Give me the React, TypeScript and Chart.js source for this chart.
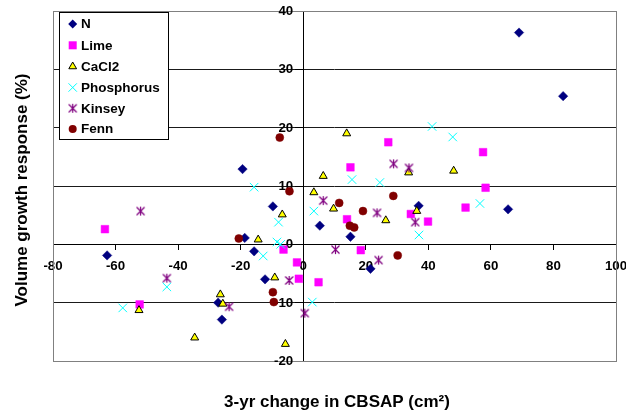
import React, { useEffect, useRef } from 'react';
import { Chart, registerables } from 'chart.js';

Chart.register(...registerables);

const FONT = '"Liberation Sans", Arial, Helvetica, sans-serif';

// ---- data ----
const seriesNames = ['N', 'Lime', 'CaCl2', 'Phosphorus', 'Kinsey', 'Fenn'];

const nX = [69.0, 83.1, 65.5, 36.9, 5.3, 15.1, 21.5, -19.4, -9.7, -18.7, -15.7, -12.2, -27.2, -26.0, -62.7];
const nY = [36.3, 25.4, 6.0, 6.6, 3.2, 1.3, -4.2, 12.9, 6.5, 1.1, -1.2, -6.0, -10.0, -12.9, -1.9];

const limeX = [-63.4, -52.3, -6.3, -2.0, -1.4, 4.9, 18.4, 14.0, 15.1, 27.2, 34.4, 39.9, 51.9, 58.3, 57.5];
const limeY = [2.6, -10.3, -0.9, -3.1, -5.9, -6.5, -1.0, 4.3, 13.2, 17.5, 5.2, 3.9, 6.3, 9.7, 15.8];

const cacl2X = [-52.5, -34.7, -26.5, -25.7, -9.1, -5.7, -14.4, -6.7, 3.4, 6.4, 9.7, 13.9, 26.4, 33.7, 36.3, 48.1];
const cacl2Y = [-11.3, -16.0, -8.6, -10.2, -5.7, -17.1, 0.8, 5.1, 8.9, 11.7, 6.1, 19.0, 4.1, 12.3, 5.7, 12.6];

const phosX = [-57.7, -43.6, -15.7, -7.9, -8.4, -7.2, -12.8, 2.9, 3.4, 15.6, 24.5, 37.0, 41.2, 47.8, 56.5];
const phosY = [-10.9, -7.3, 9.8, 3.8, 0.4, 0.0, -2.0, -9.9, 5.7, 11.1, 10.6, 1.6, 20.2, 18.4, 7.0];

const kinX = [-52.0, -43.6, -23.7, -4.5, 0.5, 10.3, 24.1, 6.4, 23.6, 28.9, 33.8, 35.8];
const kinY = [5.7, -5.8, -10.7, -6.2, -11.8, -0.9, -2.7, 7.5, 5.4, 13.8, 13.1, 3.8];

const fennX = [-7.5, -4.4, -20.6, -9.7, -9.4, 11.5, 19.1, 14.9, 16.3, 28.8, 30.2];
const fennY = [18.3, 9.1, 1.0, -8.2, -9.9, 7.1, 5.7, 3.2, 2.9, 8.3, -1.9];

const xTicks = [-80, -60, -40, -20, 0, 20, 40, 60, 80, 100];
const yTicks = [-20, -10, 0, 10, 20, 30, 40];

const xTitle = '3-yr change in CBSAP (cm\u00B2)';
const yTitle = 'Volume growth response (%)';

const toPts = (xs: number[], ys: number[]) => xs.map((x, i) => ({ x, y: ys[i] }));

function makeAsterisk(color: string): HTMLCanvasElement {
  const c = document.createElement('canvas');
  c.width = 11;
  c.height = 11;
  const g = c.getContext('2d')!;
  g.strokeStyle = color;
  g.lineWidth = 1.2;
  g.beginPath();
  g.moveTo(1.5, 1.5);
  g.lineTo(9.5, 9.5);
  g.moveTo(9.5, 1.5);
  g.lineTo(1.5, 9.5);
  g.moveTo(5.5, 1);
  g.lineTo(5.5, 10);
  g.stroke();
  return c;
}

function drawLegendMarker(ctx: CanvasRenderingContext2D, i: number, x: number, y: number, star: HTMLCanvasElement) {
  ctx.save();
  ctx.lineWidth = 1;
  ctx.beginPath();
  if (i === 0) {
    const r = 4.5;
    ctx.moveTo(x - r, y);
    ctx.lineTo(x, y - r);
    ctx.lineTo(x + r, y);
    ctx.lineTo(x, y + r);
    ctx.closePath();
    ctx.fillStyle = '#000080';
    ctx.fill();
  } else if (i === 1) {
    ctx.fillStyle = '#FF00FF';
    ctx.fillRect(x - 4, y - 4, 8, 8);
  } else if (i === 2) {
    const r = 4.5;
    ctx.moveTo(x, y - r);
    ctx.lineTo(x + 0.866 * r, y + 0.5 * r);
    ctx.lineTo(x - 0.866 * r, y + 0.5 * r);
    ctx.closePath();
    ctx.fillStyle = '#FFFF00';
    ctx.fill();
    ctx.strokeStyle = '#000';
    ctx.stroke();
  } else if (i === 3) {
    const d = 4.2;
    ctx.moveTo(x - d, y - d);
    ctx.lineTo(x + d, y + d);
    ctx.moveTo(x + d, y - d);
    ctx.lineTo(x - d, y + d);
    ctx.strokeStyle = '#00FFFF';
    ctx.stroke();
  } else if (i === 4) {
    ctx.drawImage(star, x - star.width / 2, y - star.height / 2);
  } else {
    ctx.arc(x, y, 4, 0, Math.PI * 2);
    ctx.fillStyle = '#800000';
    ctx.fill();
  }
  ctx.restore();
}

export default function App() {
  const ref = useRef<HTMLCanvasElement | null>(null);

  useEffect(() => {
    const canvas = ref.current;
    if (!canvas) return;
    const star = makeAsterisk('#800080');
    const tickFontCss = `bold 13.3px ${FONT}`;

    const extras = {
      id: 'extras',
      beforeDatasetsDraw(chart: any) {
        const { ctx, chartArea: a } = chart;
        ctx.save();
        // plot-area frame
        ctx.strokeStyle = '#808080';
        ctx.lineWidth = 1;
        ctx.strokeRect(Math.round(a.left) + 0.5, Math.round(a.top) + 0.5, Math.round(a.right - a.left), Math.round(a.bottom - a.top));
        // y tick labels, left of the centred axis and its tick marks
        const xs = chart.scales.x;
        const ys = chart.scales.y;
        const axisX = xs.getPixelForValue(0);
        ctx.fillStyle = '#000';
        ctx.font = tickFontCss;
        ctx.textAlign = 'right';
        ctx.textBaseline = 'middle';
        yTicks.forEach((v) => {
          ctx.fillText(String(v), axisX - 10, ys.getPixelForValue(v) + 0.5);
        });
        ctx.restore();
      },
      afterDraw(chart: any) {
        const { ctx } = chart;
        ctx.save();
        // axis titles
        ctx.fillStyle = '#000';
        ctx.font = `bold 17px ${FONT}`;
        ctx.textAlign = 'center';
        ctx.textBaseline = 'alphabetic';
        ctx.fillText(xTitle, 337, 407);
        ctx.save();
        ctx.translate(26.5, 190);
        ctx.rotate(-Math.PI / 2);
        ctx.fillText(yTitle, 0, 0);
        ctx.restore();

        // legend
        ctx.fillStyle = '#fff';
        ctx.fillRect(59, 12, 109, 127);
        ctx.strokeStyle = '#000';
        ctx.lineWidth = 1;
        ctx.strokeRect(59.5, 12.5, 109, 127);
        const rows = [24, 45.3, 66.5, 87.5, 108.3, 129];
        ctx.font = `bold 13.5px ${FONT}`;
        ctx.textAlign = 'left';
        ctx.textBaseline = 'middle';
        seriesNames.forEach((name, i) => {
          drawLegendMarker(ctx, i, 72.7, rows[i], star);
          ctx.fillStyle = '#000';
          ctx.fillText(name, 81, rows[i] + 0.5);
        });
        ctx.restore();
      },
    };

    const tickFont = { family: FONT, size: 13.3, weight: 'bold' as const };

    const chart = new Chart(canvas, {
      type: 'scatter',
      data: {
        datasets: [
          {
            label: seriesNames[0],
            data: toPts(nX, nY),
            pointStyle: 'rectRot',
            pointRadius: 4.7,
            backgroundColor: '#000080',
            borderColor: '#000080',
            borderWidth: 0.5,
            order: 5,
          },
          {
            label: seriesNames[1],
            data: toPts(limeX, limeY),
            pointStyle: 'rect',
            pointRadius: 5.4,
            backgroundColor: '#FF00FF',
            borderColor: '#FF00FF',
            borderWidth: 0.5,
            order: 4,
          },
          {
            label: seriesNames[2],
            data: toPts(cacl2X, cacl2Y),
            pointStyle: 'triangle',
            pointRadius: 4.6,
            backgroundColor: '#FFFF00',
            borderColor: '#000000',
            borderWidth: 1,
            order: 3,
          },
          {
            label: seriesNames[3],
            data: toPts(phosX, phosY),
            pointStyle: 'crossRot',
            pointRadius: 6,
            backgroundColor: '#00FFFF',
            borderColor: '#00FFFF',
            borderWidth: 1,
            order: 2,
          },
          {
            label: seriesNames[4],
            data: toPts(kinX, kinY),
            pointStyle: star as any,
            pointRadius: 5,
            backgroundColor: '#800080',
            borderColor: '#800080',
            borderWidth: 1,
            order: 1,
          },
          {
            label: seriesNames[5],
            data: toPts(fennX, fennY),
            pointStyle: 'circle',
            pointRadius: 4,
            backgroundColor: '#800000',
            borderColor: '#800000',
            borderWidth: 0.5,
            order: 0,
          },
        ],
      },
      options: {
        responsive: false,
        animation: false,
        devicePixelRatio: 1,
        layout: { padding: { left: 53, right: 10, top: 11, bottom: 51 } },
        plugins: {
          legend: { display: false },
          tooltip: { enabled: false },
        },
        scales: {
          x: {
            type: 'linear',
            min: -80,
            max: 100,
            position: { y: 0 } as any,
            afterBuildTicks: (s: any) => {
              s.ticks = xTicks.map((v) => ({ value: v }));
            },
            afterFit: (s: any) => {
              s.paddingLeft = 0;
              s.paddingRight = 0;
            },
            ticks: {
              color: '#000',
              font: tickFont,
              padding: 9,
              maxRotation: 0,
              autoSkip: false,
            },
            grid: {
              display: true,
              drawOnChartArea: false,
              drawTicks: true,
              tickLength: 5,
              color: '#000',
              tickColor: '#000',
            },
            border: { display: true, color: '#000', width: 1 },
          },
          y: {
            type: 'linear',
            min: -20,
            max: 40,
            position: { x: 0 } as any,
            afterBuildTicks: (s: any) => {
              s.ticks = yTicks.map((v) => ({ value: v }));
            },
            afterFit: (s: any) => {
              s.paddingTop = 0;
              s.paddingBottom = 0;
            },
            ticks: {
              display: false,
              color: '#000',
              font: tickFont,
              autoSkip: false,
            },
            grid: {
              display: true,
              drawOnChartArea: true,
              drawTicks: true,
              tickLength: 8,
              color: (c: any) => (c.tick && (c.tick.value === 40 || c.tick.value === -20) ? '#808080' : '#1a1a1a'),
              tickColor: '#000',
            },
            border: { display: true, color: '#000', width: 1 },
          },
        },
      },
      plugins: [extras],
    });

    return () => {
      chart.destroy();
    };
  }, []);

  return (
    <div style={{ position: 'fixed', left: 0, top: 0, width: 626, height: 412, background: '#fff' }}>
      <canvas ref={ref} width={626} height={412} style={{ display: 'block', width: 626, height: 412 }} />
    </div>
  );
}
